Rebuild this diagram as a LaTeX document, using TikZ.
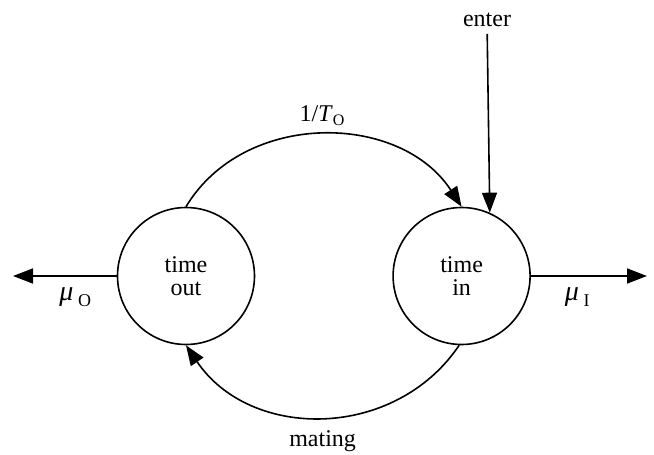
\documentclass[tikz,border=0pt]{standalone}
\usepackage{fontspec}
\setmainfont{Liberation Serif}
\usetikzlibrary{arrows.meta,positioning}

\begin{document}
\begin{tikzpicture}[
  x=0.5pt, y=-0.5pt,
  state/.style={draw, circle, line width=0.8pt, minimum size=68.5pt, inner sep=0pt,
    align=center, font=\fontsize{12}{11.5}\selectfont},
  flow/.style={line width=0.8pt, -{Triangle[length=10pt,width=7.5pt]}},
  every node/.style={font=\fontsize{12}{14}\selectfont}
]
\useasboundingbox (0,0) rectangle (654,455);

% States
\node[state] (out) at (186,276) {time\\out};
\node[state, right=68.5pt of out] (in) {time\\in};

% Free ends
\coordinate (outleft) at (13,276);
\coordinate (inright) at (647,276);
\node (enter) at (487,20) {enter};

% Transitions
\draw[flow] (out.north) to[out=59, in=123, looseness=1.05]
  node[above=1pt, pos=0.5] {1/\textit{T}$_{\mathrm{O}}$} (in.north);
\draw[flow] (in.-92) to[out=-124, in=-56, looseness=1.08]
  node[below=3pt, pos=0.5] {mating} (out.-90);
\draw[flow] (enter) -- (in.66);

% Departures
\draw[flow] (out.west) -- (outleft)
  node[below=2pt, pos=0.4] {\fontsize{14}{14}\selectfont\textit{μ}\,\raisebox{-3pt}{\small O}};
\draw[flow] (in.east) -- (inright)
  node[below=2pt, pos=0.4] {\fontsize{14}{14}\selectfont\textit{μ}\,\raisebox{-3pt}{\small I}};

\end{tikzpicture}
\end{document}
